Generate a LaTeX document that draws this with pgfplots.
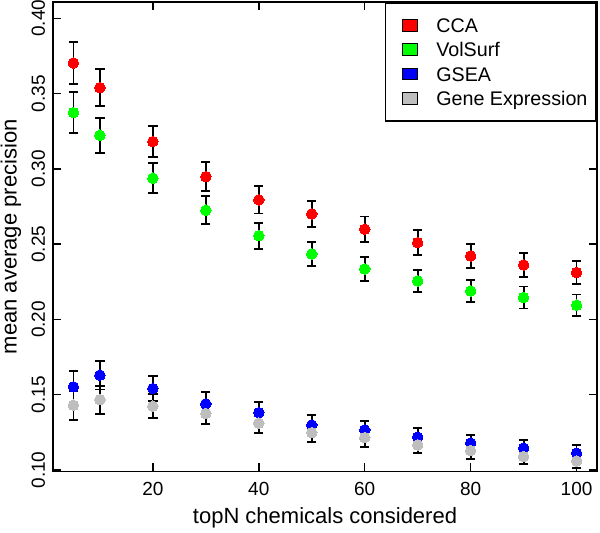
\documentclass[border=0pt]{standalone}
\usepackage{fontspec}
\setmainfont{Liberation Sans}
\usepackage{pgfplots}
\usepackage{pgfplotstable}
\pgfplotsset{compat=1.18}
\definecolor{rred}{RGB}{255,0,0}
\definecolor{rgreen}{RGB}{0,255,0}
\definecolor{rblue}{RGB}{0,0,255}
\definecolor{rgray}{RGB}{190,190,190}

\pgfplotstableread{
x y e
5 0.3703 0.0137
10 0.3539 0.0123
20 0.3181 0.0104
30 0.2948 0.0097
40 0.2794 0.0090
50 0.2701 0.0087
60 0.2599 0.0084
70 0.2510 0.0083
80 0.2422 0.0080
90 0.2362 0.0078
100 0.2311 0.0076
}\cca
\pgfplotstableread{
x y e
5 0.3373 0.0137
10 0.3223 0.0117
20 0.2938 0.0099
30 0.2725 0.0092
40 0.2556 0.0086
50 0.2435 0.0080
60 0.2335 0.0080
70 0.2256 0.0074
80 0.2189 0.0075
90 0.2145 0.0073
100 0.2094 0.0072
}\volsurf
\pgfplotstableread{
x y e
5 0.1552 0.0104
10 0.1630 0.0095
20 0.1541 0.0082
30 0.1439 0.0077
40 0.1381 0.0071
50 0.1299 0.0066
60 0.1266 0.0062
70 0.1218 0.0062
80 0.1178 0.0055
90 0.1145 0.0053
100 0.1112 0.0053
}\gsea
\pgfplotstableread{
x y e
5 0.1430 0.0097
10 0.1467 0.0093
20 0.1424 0.0080
30 0.1375 0.0069
40 0.1311 0.0066
50 0.1248 0.0060
60 0.1215 0.0062
70 0.1167 0.0055
80 0.1129 0.0055
90 0.1089 0.0049
100 0.1060 0.0049
}\geneexp

\pgfplotsset{
  ebar/.style={forget plot, only marks, mark=none,
    error bars/.cd, y dir=both, y explicit,
    error bar style={draw=black, line width=1.8bp},
    error mark options={rotate=90, mark size=4.65bp, line width=1.8bp, draw=black}},
  dots/.style={forget plot, only marks, mark=*, mark size=5.3bp,
    mark options={draw=#1, fill=#1, line width=0pt}},
}
\newcommand{\legsq}[1]{\addlegendimage{legend image code/.code={%
  \node[inner sep=0pt, minimum size=0pt] at (0bp,0bp) {};
  \draw[fill=#1, draw=black, line width=1bp] (9.6bp,-5.85bp) rectangle (24.6bp,5.85bp);}}}

\begin{document}
\begin{tikzpicture}
\useasboundingbox (0,0) rectangle (600bp,533bp);
\begin{axis}[
  at={(53.3bp,61.5bp)}, anchor=south west,
  scale only axis, width=543.4bp, height=469.5bp,
  xmin=1.2, xmax=103.8, ymin=0.0990, ymax=0.4108,
  xtick={20,40,60,80,100},
  ytick={0.10,0.15,0.20,0.25,0.30,0.35,0.40},
  yticklabel style={/pgf/number format/fixed, /pgf/number format/fixed zerofill, /pgf/number format/precision=2},
  tick align=inside,
  major tick length=8bp,
  axis line style={line width=1.7bp},
  every tick/.style={black, line width=1.5bp},
  /pgf/number format/assume math mode=true,
  ticklabel style={font=\fontsize{19bp}{22bp}\selectfont},
  xticklabel style={anchor=north, inner sep=0pt},
  xticklabel shift=11bp,
  yticklabel style={rotate=90, anchor=south, inner sep=0pt},
  yticklabel shift=8bp,
  xlabel={topN chemicals considered},
  ylabel={mean average precision},
  every axis x label/.style={at={(axis description cs:0.5,-0.1103)}, anchor=base, inner sep=0pt, font=\fontsize{22bp}{26bp}\selectfont},
  every axis y label/.style={at={(axis description cs:-0.0677,0.5)}, rotate=90, anchor=base, inner sep=0pt, font=\fontsize{22bp}{26bp}\selectfont},
  legend style={at={(rel axis cs:1,1)}, anchor=north east, draw=black, line width=1.7bp,
    inner xsep=8.4bp, inner ysep=15.5bp, row sep=10.2bp, column sep=18.3bp,
    font=\fontsize{19.7bp}{23bp}\selectfont,
    nodes={inner sep=0pt, text height=14.1bp, text depth=0pt}},
  legend cell align=left,
]
\addplot[ebar] table[x=x, y=y, y error=e] {\cca};
\addplot[dots=rred] table[x=x, y=y] {\cca};
\addplot[ebar] table[x=x, y=y, y error=e] {\volsurf};
\addplot[dots=rgreen] table[x=x, y=y] {\volsurf};
\addplot[ebar] table[x=x, y=y, y error=e] {\gsea};
\addplot[dots=rblue] table[x=x, y=y] {\gsea};
\addplot[ebar] table[x=x, y=y, y error=e] {\geneexp};
\addplot[dots=rgray] table[x=x, y=y] {\geneexp};
\legsq{rred}\addlegendentry{CCA}
\legsq{rgreen}\addlegendentry{VolSurf}
\legsq{rblue}\addlegendentry{GSEA}
\legsq{rgray}\addlegendentry{Gene Expression}
\end{axis}
\end{tikzpicture}
\end{document}
